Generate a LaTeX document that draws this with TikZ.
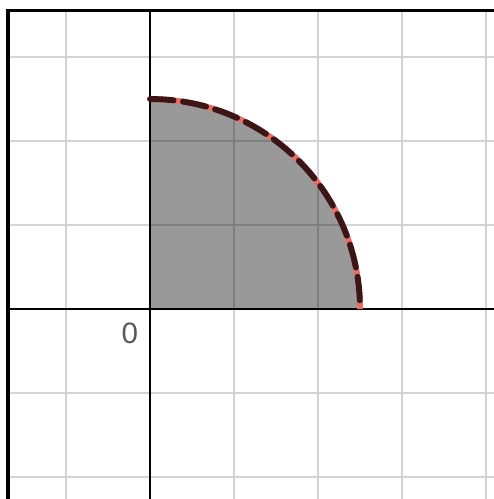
\documentclass[tikz,border=0pt]{standalone}
\usepackage{fontspec}
\setsansfont{Liberation Sans}
\usepackage{xcolor}
\usepackage{tikz}
\definecolor{rimdark}{RGB}{58,22,22}
\definecolor{rimlight}{RGB}{228,112,106}

\begin{document}
\begin{tikzpicture}[
  font=\sffamily,
  gridline/.style={black, opacity=0.17, line width=0.65pt},
  axis/.style    ={black, line width=0.9pt},
  frame/.style   ={black, line width=1.1pt},
  region/.style  ={fill=black!40},
  rim/.style     ={line width=2pt, rimlight},
  rimdash/.style ={line width=2pt, rimdark, line cap=round, dash pattern=on 8pt off 3.2pt},
  lbl/.style     ={text=black!65, font=\sffamily\fontsize{10}{12}\selectfont, inner sep=0pt}
]
\useasboundingbox (-1.786,-2.262) rectangle (4.095,3.679);
\coordinate (O) at (0,0);
\coordinate (A) at (2.5,0);
\coordinate (B) at (0,2.5);
\coordinate (sw) at (-1.69,-2.262);
\coordinate (ne) at (4.095,3.55);
% quarter disc
\fill[region] (O) -- (A) arc[start angle=0, end angle=90, radius=2.5] -- cycle;
\draw[gridline] (sw) grid (ne);
% axes and frame
\draw[axis] (sw |- O) -- (ne |- O);
\draw[axis] (O |- sw) -- (O |- ne);
\draw[frame] (sw) -- (sw |- ne) -- (ne);
% dashed rim
\draw[rim] (B) arc[start angle=90, end angle=0, radius=2.5];
\draw[rimdash] (B) arc[start angle=90, end angle=0, radius=2.5];
\node[lbl] (zero) at (-0.24,-0.29) {0};
\end{tikzpicture}
\end{document}
